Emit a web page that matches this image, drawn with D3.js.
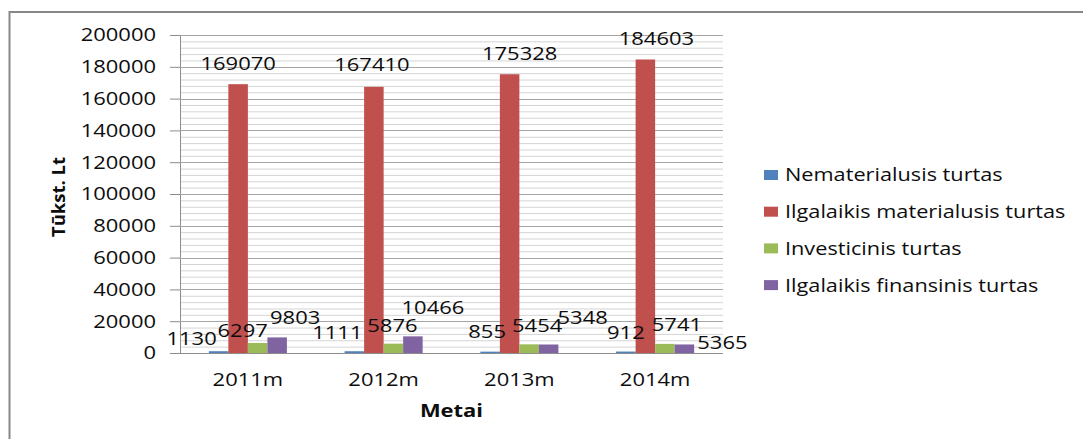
<!DOCTYPE html>
<html>
<head>
<meta charset="utf-8">
<script src="https://cdn.jsdelivr.net/npm/d3@7"></script>
<style>
  html, body { margin: 0; padding: 0; background: #fff; }
  svg { display: block; }
  text { font-family: "Open Sans", "DejaVu Sans", sans-serif; fill: #0d0d0d; }
</style>
</head>
<body>
<svg id="chart" width="1083" height="439"></svg>
<script>
// Turto struktūra, tūkst. Lt
const categories = ["2011m", "2012m", "2013m", "2014m"];
const seriesNames = [
  "Nematerialusis turtas",
  "Ilgalaikis materialusis turtas",
  "Investicinis turtas",
  "Ilgalaikis finansinis turtas"
];
const nematerialusis = [1130, 1111, 855, 912];
const materialusis = [169070, 167410, 175328, 184603];
const investicinis = [6297, 5876, 5454, 5741];
const finansinis = [9803, 10466, 5348, 5365];
const yTickValues = [0, 20000, 40000, 60000, 80000, 100000, 120000, 140000, 160000, 180000, 200000];
const colors = ["#4F81BD", "#C0504D", "#9BBB59", "#8064A2"];

// hand-placed value label nudges (px), per series then per category
const labelNudge = [
  [[-27, -13], [-17, -19], [-3, -20], [0, -19]],
  [[0, -21], [-2, -22], [10, -21], [11, -21]],
  [[-15, -12], [-1, -18], [8, -19], [12, -19]],
  [[18, -20], [20, -29], [34, -27], [38, -2]]
];

const series = [nematerialusis, materialusis, investicinis, finansinis];
const SX = 1.22; // horizontal text stretch

const svg = d3.select("#chart");

// outer frame
svg.append("rect")
  .attr("x", 9.5).attr("y", 12).attr("width", 1200).attr("height", 600)
  .attr("fill", "none").attr("stroke", "#878787").attr("stroke-width", 2);

const plot = { left: 180, right: 723, top: 35, bottom: 353 };

const x0 = d3.scaleBand().domain(categories)
  .range([plot.left, plot.right]).paddingInner(0.425).paddingOuter(0.2125);
const x1 = d3.scaleBand().domain(d3.range(series.length)).range([0, x0.bandwidth()]);
const y = d3.scaleLinear().domain([0, 200000]).range([plot.bottom, plot.top]);

function stretchedText(parent, x, yy, str, opt) {
  const g = parent.append("g").attr("transform", `translate(${x},${yy}) scale(${opt.sx || SX},1)`);
  return g.append("text")
    .attr("text-anchor", opt.anchor || "middle")
    .attr("dy", "0.36em")
    .style("font-size", (opt.size || 18) + "px")
    .style("font-weight", opt.weight || "normal")
    .text(str);
}

// minor grid
const grid = svg.append("g");
grid.selectAll("line.minor")
  .data(d3.range(4000, 200000, 4000).filter(v => v % 20000 !== 0))
  .join("line")
  .attr("x1", plot.left).attr("x2", plot.right)
  .attr("y1", d => y(d) + 0.5).attr("y2", d => y(d) + 0.5)
  .attr("stroke", "#d4d4d4").attr("stroke-width", 1);

// major grid (via y axis)
const yAxis = d3.axisLeft(y).tickValues(yTickValues).tickSize(10).tickFormat("");
const yAxisG = svg.append("g").attr("transform", `translate(${plot.left},0)`).call(yAxis);
yAxisG.select(".domain").attr("stroke", "#8c8c8c");
yAxisG.selectAll(".tick line").attr("stroke", "#8c8c8c");
svg.append("g").selectAll("line.major")
  .data(yTickValues.filter(v => v > 0))
  .join("line")
  .attr("x1", plot.left).attr("x2", plot.right)
  .attr("y1", d => Math.round(y(d)) + 0.5).attr("y2", d => Math.round(y(d)) + 0.5)
  .attr("stroke", "#a6a6a6").attr("stroke-width", 1);

// y tick labels
yTickValues.forEach(v => {
  stretchedText(svg, 156, y(v), String(v), { anchor: "end", size: 18 });
});

// bars
const barG = svg.append("g");
series.forEach((vals, si) => {
  barG.selectAll(null)
    .data(vals)
    .join("rect")
    .attr("x", (d, i) => x0(categories[i]) + x1(si))
    .attr("width", x1.bandwidth())
    .attr("y", d => y(d))
    .attr("height", d => y(0) - y(d))
    .attr("fill", colors[si]);
});

// x axis line
svg.append("line")
  .attr("x1", plot.left).attr("x2", plot.right)
  .attr("y1", plot.bottom + 0.5).attr("y2", plot.bottom + 0.5)
  .attr("stroke", "#8c8c8c");

// value labels
series.forEach((vals, si) => {
  vals.forEach((v, i) => {
    const cx = x0(categories[i]) + x1(si) + x1.bandwidth() / 2;
    const [dx, dy] = labelNudge[si][i];
    stretchedText(svg, cx + dx, y(v) + dy, String(v), { size: 18 });
  });
});

// x tick labels
categories.forEach(c => {
  stretchedText(svg, x0(c) + x0.bandwidth() / 2, 380, c, { size: 18 });
});

// axis titles
stretchedText(svg, (plot.left + plot.right) / 2, 411, "Metai", { size: 18, weight: "bold" });
svg.append("text")
  .attr("transform", `translate(58,${(plot.top + plot.bottom) / 2 + 3}) rotate(-90)`)
  .attr("text-anchor", "middle").attr("dy", "0.36em")
  .style("font-size", "18.5px").style("font-weight", "bold")
  .text("Tūkst. Lt");

// legend
const legend = svg.append("g");
seriesNames.forEach((name, i) => {
  const ly = 175 + i * 36.7;
  legend.append("rect")
    .attr("x", 764).attr("y", ly - 5).attr("width", 14).attr("height", 10)
    .attr("fill", colors[i]);
  stretchedText(legend, 785, ly, name, { anchor: "start", size: 17.8 });
});
</script>
</body>
</html>
